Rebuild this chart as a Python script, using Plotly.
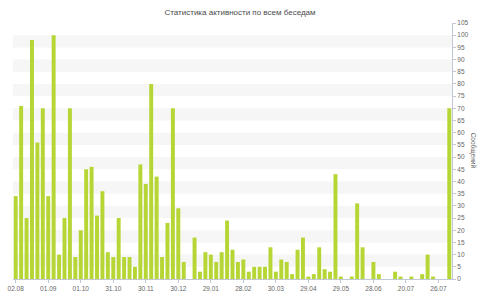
import plotly.graph_objects as go

title_text = "Статистика активности по всем беседам"
y_title = "Сообщений"

messages = [34, 71, 25, 98, 56, 70, 34, 100, 10, 25,
            70, 9, 20, 45, 46, 26, 36, 11, 9, 25,
            9, 9, 5, 47, 39, 80, 42, 9, 23, 70,
            29, 7, 0, 17, 3, 11, 10, 7, 11, 24,
            12, 7, 8, 3, 5, 5, 5, 13, 3, 8,
            7, 2, 12, 17, 1, 2, 13, 4, 3, 43,
            1, 0, 1, 31, 13, 0, 7, 2, 0, 0,
            3, 1, 0, 1, 0, 2, 10, 1, 0, 0,
            70]
positions = list(range(len(messages)))

tick_positions = [0, 6, 12, 18, 24, 30, 36, 42, 48, 54, 60, 66, 72, 78]
tick_labels = ["02.08", "01.09", "01.10", "31.10", "30.11", "30.12", "29.01",
               "28.02", "30.03", "29.04", "29.05", "28.06", "20.07", "26.07"]

y_max = 105
y_step = 5

fig = go.Figure()
fig.add_trace(go.Bar(
    x=positions, y=messages,
    marker=dict(color="#b6d636", line=dict(width=0)),
    hoverinfo="skip",
))

shapes = []
for k in range(1, y_max // y_step, 2):
    shapes.append(dict(type="rect", xref="paper", yref="y",
                       x0=0, x1=1, y0=k * y_step, y1=(k + 1) * y_step,
                       fillcolor="#f6f6f6", line=dict(width=0), layer="below"))

fig.update_layout(
    width=480, height=300,
    margin=dict(l=8, r=28, t=23, b=19),
    paper_bgcolor="white", plot_bgcolor="white",
    showlegend=False,
    bargap=0.27,
    shapes=shapes,
    font=dict(family="Liberation Sans", size=6.5, color="#666666"),
    title=dict(text=title_text, x=0.5, xanchor="center", y=0.958, yanchor="middle",
               font=dict(family="Liberation Sans", size=8, color="#4a4a4a")),
    xaxis=dict(range=[-0.5, len(messages) - 0.5],
               tickmode="array", tickvals=tick_positions, ticktext=tick_labels,
               showgrid=False, zeroline=False,
               showline=True, linecolor="#c0c8d8", linewidth=1,
               ticks="outside", ticklen=3, tickcolor="#c0c8d8",
               tickfont=dict(size=6.5, color="#666666"), fixedrange=True),
    yaxis=dict(range=[0, y_max], side="right", dtick=y_step, tick0=0,
               showgrid=False, zeroline=False,
               showline=True, linecolor="#c0c8d8", linewidth=1,
               ticks="outside", ticklen=3, tickcolor="#c0c8d8",
               tickfont=dict(size=6.5, color="#666666"), fixedrange=True),
    annotations=[dict(text=y_title, xref="paper", yref="paper", x=1.035, y=0.5,
                      xanchor="left", yanchor="middle", showarrow=False, textangle=90,
                      font=dict(family="Liberation Sans", size=6.5, color="#666666"))],
)

fig.write_html("out.html")
